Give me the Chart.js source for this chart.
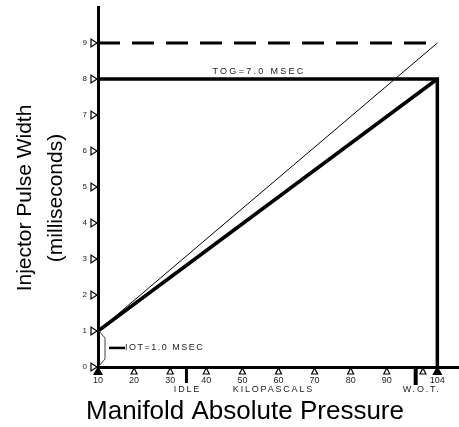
<!DOCTYPE html>
<html>
<head>
<meta charset="utf-8">
<script src="https://cdn.jsdelivr.net/npm/chart.js@4/dist/chart.umd.min.js"></script>
<style>
  html, body { margin: 0; padding: 0; background: #fff; }
  #wrap { width: 459px; height: 427px; }
</style>
</head>
<body>
<div id="wrap"><canvas id="pulse-chart"></canvas></div>
<script>
// ---- data ------------------------------------------------------------------
var x_ticks = [10, 20, 30, 40, 50, 60, 70, 80, 90, 104];
var x_open_marks = [20, 30, 40, 50, 60, 70, 80, 90, 100];
var x_solid_marks = [10, 104];
var y_ticks = [0, 1, 2, 3, 4, 5, 6, 7, 8, 9];

var idle_kpa = 34.5;
var wot_kpa = 98;

var max_line = [{x: 10, y: 9}, {x: 104, y: 9}];          // dashed limit
var thin_line = [{x: 10, y: 1}, {x: 104, y: 9}];
var thick_line = [{x: 10, y: 1}, {x: 104, y: 8}];
var tog_frame = [{x: 10, y: 8}, {x: 104, y: 8}, {x: 104, y: 0}];

var tog_text = "TOG=7.0 MSEC";
var iot_text = "IOT=1.0 MSEC";

var FONT = "'Liberation Sans', Arial, sans-serif";

// ---- extra drawing (markers, notes, titles) --------------------------------
var decor = {
    id: 'decor',
    afterDraw: function (chart) {
        var ctx = chart.ctx;
        var xs = chart.scales.x, ys = chart.scales.y;
        var ax = xs.getPixelForValue(10);
        var ay = ys.getPixelForValue(0);

        ctx.save();
        ctx.strokeStyle = '#000';
        ctx.fillStyle = '#000';
        ctx.lineWidth = 1.2;

        // y markers
        y_ticks.forEach(function (v) {
            var py = ys.getPixelForValue(v);
            ctx.beginPath();
            ctx.moveTo(ax - 7, py - 4);
            ctx.lineTo(ax - 7, py + 4);
            ctx.lineTo(ax - 1, py);
            ctx.closePath();
            ctx.stroke();
        });

        // x markers
        x_open_marks.forEach(function (v) {
            var px = xs.getPixelForValue(v);
            ctx.beginPath();
            ctx.moveTo(px - 3, ay + 7);
            ctx.lineTo(px + 3, ay + 7);
            ctx.lineTo(px, ay + 1);
            ctx.closePath();
            ctx.stroke();
        });
        x_solid_marks.forEach(function (v) {
            var px = xs.getPixelForValue(v);
            ctx.beginPath();
            ctx.moveTo(px - 5, ay + 8);
            ctx.lineTo(px + 5, ay + 8);
            ctx.lineTo(px, ay - 1);
            ctx.closePath();
            ctx.fill();
        });

        // idle / wot bars
        var pIdle = xs.getPixelForValue(idle_kpa);
        ctx.fillRect(pIdle - 1.5, ay, 3, 16);
        var pWot = xs.getPixelForValue(wot_kpa);
        ctx.fillRect(pWot - 2, ay, 4, 18);

        // IOT brace + arrow
        var p1 = ys.getPixelForValue(1);
        ctx.lineWidth = 1;
        ctx.strokeStyle = '#444';
        ctx.beginPath();
        ctx.moveTo(ax + 1, p1);
        ctx.lineTo(ax + 7, p1 + 7);
        ctx.lineTo(ax + 7, ay - 8);
        ctx.lineTo(ax + 1, ay - 1);
        ctx.stroke();
        var pIot = ys.getPixelForValue(0.53);
        ctx.strokeStyle = '#000';
        ctx.lineWidth = 2.5;
        ctx.beginPath();
        ctx.moveTo(ax + 11, pIot);
        ctx.lineTo(ax + 27, pIot);
        ctx.stroke();

        // small notes
        ctx.fillStyle = '#222';
        ctx.textBaseline = 'middle';
        ctx.font = '9px ' + FONT;
        ctx.letterSpacing = '1.5px';
        ctx.textAlign = 'left';
        ctx.fillText(iot_text, ax + 27, pIot);
        ctx.letterSpacing = '2.3px';
        ctx.textAlign = 'center';
        ctx.fillText(tog_text, xs.getPixelForValue(54.6), ys.getPixelForValue(8.2));

        ctx.letterSpacing = '1.8px';
        var ly = ay + 23;
        ctx.fillText('IDLE', pIdle + 1, ly);
        ctx.fillText('KILOPASCALS', xs.getPixelForValue(58.6), ly);
        ctx.fillText('W.O.T.', pWot + 6, ly);
        ctx.letterSpacing = '0px';

        // axis titles
        ctx.fillStyle = '#000';
        ctx.font = '26px ' + FONT;
        ctx.fillText('Manifold Absolute Pressure', 245, 412);

        ctx.font = '21px ' + FONT;
        ctx.translate(40, 198);
        ctx.rotate(-Math.PI / 2);
        ctx.fillText('Injector Pulse Width', 0, -15);
        ctx.fillText('(milliseconds)', 0, 16);
        ctx.restore();
    }
};

// ---- chart -----------------------------------------------------------------
var pulse_chart_config = {
    type: 'scatter',
    data: {
        datasets: [{
            data: max_line,
            showLine: true,
            borderColor: '#000',
            borderWidth: 3,
            borderDash: [22, 12],
            pointRadius: 0
        }, {
            data: tog_frame,
            showLine: true,
            borderColor: '#000',
            borderWidth: 3.5,
            pointRadius: 0
        }, {
            data: thick_line,
            showLine: true,
            borderColor: '#000',
            borderWidth: 3.5,
            pointRadius: 0
        }, {
            data: thin_line,
            showLine: true,
            borderColor: '#000',
            borderWidth: 1,
            pointRadius: 0
        }]
    },
    options: {
        responsive: true,
        maintainAspectRatio: false,
        animation: false,
        layout: { padding: { top: 7, right: 0, left: 0, bottom: 0 } },
        plugins: {
            legend: { display: false },
            tooltip: { enabled: false }
        },
        scales: {
            x: {
                type: 'linear',
                min: 10,
                max: 110,
                afterBuildTicks: function (scale) {
                    scale.ticks = x_ticks.map(function (v) { return {value: v}; });
                },
                afterFit: function (scale) {
                    scale.height = 60;
                    scale.paddingLeft = 0;
                    scale.paddingRight = 0;
                },
                grid: { display: false, drawTicks: false },
                border: { display: true, color: '#000', width: 3 },
                ticks: {
                    autoSkip: false,
                    maxRotation: 0,
                    padding: 8,
                    color: '#222',
                    font: { family: FONT, size: 9 }
                }
            },
            y: {
                min: 0,
                max: 10,
                afterBuildTicks: function (scale) {
                    scale.ticks = y_ticks.map(function (v) { return {value: v}; });
                },
                afterFit: function (scale) {
                    scale.width = 98;
                    scale.paddingTop = 0;
                    scale.paddingBottom = 0;
                },
                grid: { display: false, drawTicks: false },
                border: { display: true, color: '#000', width: 3 },
                ticks: {
                    autoSkip: false,
                    padding: 11,
                    color: '#222',
                    font: { family: FONT, size: 8 }
                }
            }
        }
    },
    plugins: [decor]
};

new Chart(document.getElementById('pulse-chart').getContext('2d'), pulse_chart_config);
</script>
</body>
</html>
